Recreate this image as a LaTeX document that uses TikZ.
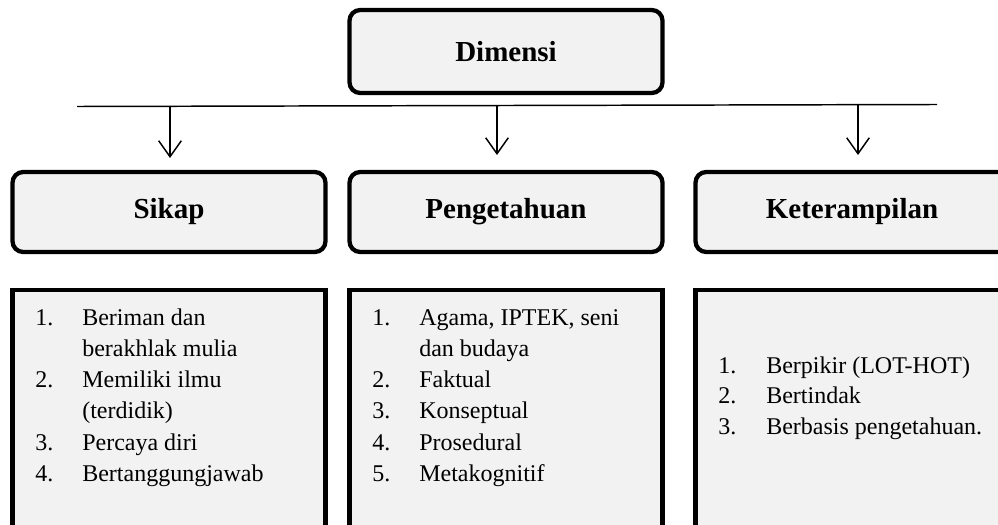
\documentclass[tikz,border=0pt]{standalone}
\usepackage{fontspec}
\setmainfont{Liberation Serif}
\usetikzlibrary{arrows.meta}
\definecolor{boxfill}{HTML}{F2F2F2}
\begin{document}
\begin{tikzpicture}[x=0.75pt,y=-0.75pt,
  headbox/.style={draw=black, fill=boxfill, line width=3.2pt, rounded corners=8pt,
    minimum width=313*0.75pt, minimum height=80*0.75pt, inner sep=0pt,
    font=\fontsize{21.75}{26}\selectfont\bfseries},
  listbox/.style={draw=black, fill=boxfill, line width=3.6pt, inner sep=0pt,
    minimum width=313*0.75pt, minimum height=250*0.75pt},
  itemtxt/.style={anchor=base west, inner sep=0pt, font=\fontsize{18}{22}\selectfont},
  conn/.style={line width=1.1pt},
  down/.style={line width=1.1pt, -{Straight Barb[length=12pt,width=17pt,line width=1.1pt]}}
]
\useasboundingbox (0,0) rectangle (998,524);
\clip (0,0) rectangle (998,524);

% top box
\node[headbox, minimum height=83*0.75pt] (dim) at (506,51.5) {Dimensi};

% horizontal bar
\coordinate (barL) at (77,106.5);
\coordinate (barR) at (937,104.5);
\draw[conn] (barL) -- (barR);

% category boxes
\node[headbox] (sikap) at (169,212) {\raisebox{-1pt}{Sikap}};
\node[headbox] (peng) at (506,212) {\raisebox{-1pt}{Pengetahuan}};
\node[headbox] (ket) at (852,212) {\raisebox{-1pt}{Keterampilan}};

% arrows
\coordinate (a1s) at (170,106.3);
\coordinate (a1e) at (170,158);
\coordinate (a2s) at (497,105.3);
\coordinate (a2e) at (497,155);
\coordinate (a3s) at (858,104.6);
\coordinate (a3e) at (858,155);
\draw[down] (a1s) -- (a1e);
\draw[down] (a2s) -- (a2e);
\draw[down] (a3s) -- (a3e);

% list boxes
\node[listbox] (l1) at (169,415) {};
\node[listbox] (l2) at (506,415) {};
\node[listbox] (l3) at (852,415) {};

% Sikap list
\node[itemtxt] (s1n) at (35,325) {1.};
\node[itemtxt] (s1t) at (82,325) {Beriman dan};
\node[itemtxt] (s1u) at (82,356) {berakhlak mulia};
\node[itemtxt] (s2n) at (35,387) {2.};
\node[itemtxt] (s2t) at (82,387) {Memiliki ilmu};
\node[itemtxt] (s2u) at (82,418) {(terdidik)};
\node[itemtxt] (s3n) at (35,450) {3.};
\node[itemtxt] (s3t) at (82,450) {Percaya diri};
\node[itemtxt] (s4n) at (35,481) {4.};
\node[itemtxt] (s4t) at (82,481) {Bertanggungjawab};

% Pengetahuan list
\node[itemtxt] (p1n) at (372,325) {1.};
\node[itemtxt] (p1t) at (419,325) {Agama, IPTEK, seni};
\node[itemtxt] (p1u) at (419,356) {dan budaya};
\node[itemtxt] (p2n) at (372,387) {2.};
\node[itemtxt] (p2t) at (419,387) {Faktual};
\node[itemtxt] (p3n) at (372,418) {3.};
\node[itemtxt] (p3t) at (419,418) {Konseptual};
\node[itemtxt] (p4n) at (372,450) {4.};
\node[itemtxt] (p4t) at (419,450) {Prosedural};
\node[itemtxt] (p5n) at (372,481) {5.};
\node[itemtxt] (p5t) at (419,481) {Metakognitif};

% Keterampilan list
\node[itemtxt] (k1n) at (718,373) {1.};
\node[itemtxt] (k1t) at (766,373) {Berpikir (LOT-HOT)};
\node[itemtxt] (k2n) at (718,403.5) {2.};
\node[itemtxt] (k2t) at (766,403.5) {Bertindak};
\node[itemtxt] (k3n) at (718,434) {3.};
\node[itemtxt] (k3t) at (766,434) {Berbasis pengetahuan.};
\end{tikzpicture}
\end{document}
